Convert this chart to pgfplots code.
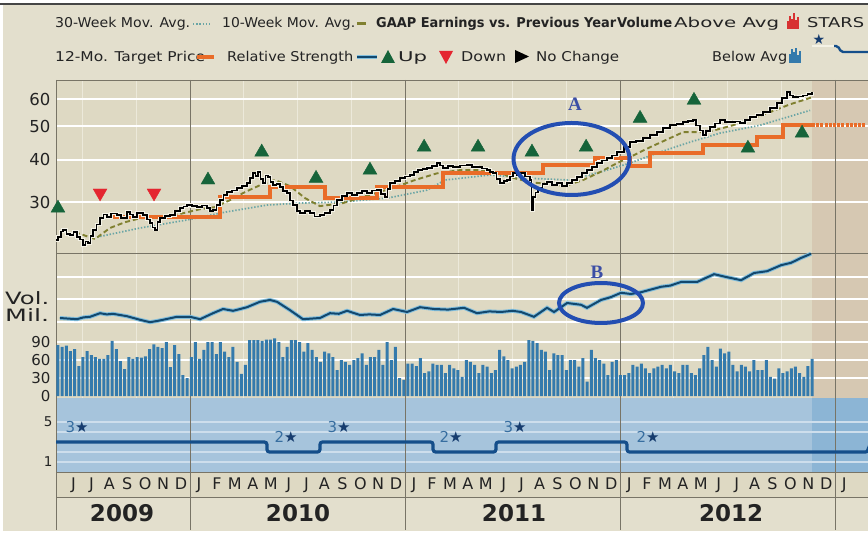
\documentclass[border=0pt]{standalone}
\usepackage{pgfplots}
\pgfplotsset{compat=1.18}
\usepackage{pgfplotstable}
\usepackage{graphicx}
\usepackage{fontspec}
\setmainfont{DejaVu Sans}
\newfontfamily\annfont{Liberation Serif}

\definecolor{framec}{RGB}{70,70,70}
\definecolor{bgout}{RGB}{227,223,205}
\definecolor{bgpanel}{RGB}{222,217,195}
\definecolor{bgfut}{RGB}{214,200,178}
\definecolor{starbg}{RGB}{166,196,220}
\definecolor{starfut}{RGB}{140,181,213}
\definecolor{stargrid}{RGB}{205,222,236}
\definecolor{yearline}{RGB}{120,116,102}
\definecolor{qline}{RGB}{236,233,218}
\definecolor{txt}{RGB}{35,35,35}
\definecolor{upgreen}{RGB}{22,100,58}
\definecolor{downred}{RGB}{228,38,48}
\definecolor{tgt}{RGB}{233,108,40}
\definecolor{maten}{RGB}{128,128,48}
\definecolor{mathirty}{RGB}{105,165,165}
\definecolor{rsdark}{RGB}{18,72,110}
\definecolor{rshalo}{RGB}{130,190,220}
\definecolor{volblue}{RGB}{52,122,172}
\definecolor{volred}{RGB}{215,50,50}
\definecolor{starline}{RGB}{20,78,138}
\definecolor{starnum}{RGB}{55,110,160}
\definecolor{starnavy}{RGB}{22,60,110}
\definecolor{ann}{RGB}{35,78,178}
\definecolor{annlab}{RGB}{60,78,165}
\definecolor{pricehalo}{RGB}{244,242,230}

\newcommand{\fw}[2]{\resizebox{#1pt}{\height}{#2}}

% price (t = months since Jan 2009, p = price)
\pgfplotstableread{
t p
4.52 23.2
4.63 23.7
4.78 24.6
4.91 24.9
5.10 24.2
5.30 24.0
5.50 24.5
5.69 23.7
5.85 23.3
6.03 22.5
6.17 23.0
6.31 22.8
6.45 23.9
6.58 24.9
6.78 25.8
6.98 26.9
7.17 27.6
7.37 27.1
7.60 27.8
7.92 27.5
8.15 27.0
8.48 28.1
8.65 27.6
8.82 27.1
9.05 27.9
9.38 27.5
9.60 26.7
9.77 26.1
9.90 25.3
10.04 24.9
10.18 26.2
10.32 26.9
10.60 27.3
10.88 27.5
11.15 28.2
11.44 28.8
11.63 29.1
11.83 29.4
12.10 29.2
12.39 29.0
12.65 29.3
12.95 28.8
13.10 28.3
13.28 28.4
13.47 29.4
13.67 30.4
13.86 31.4
14.06 32.1
14.35 32.4
14.62 33.0
14.90 33.4
15.18 34.1
15.35 35.3
15.51 36.4
15.65 35.8
15.79 36.7
15.93 35.1
16.07 34.1
16.21 35.9
16.35 35.5
16.49 34.3
16.63 33.6
16.82 33.9
17.02 33.2
17.20 32.3
17.41 31.9
17.58 30.3
17.75 29.4
17.95 28.3
18.14 27.9
18.40 28.2
18.69 27.9
18.95 27.2
19.25 27.5
19.50 27.9
19.81 28.4
20.00 29.3
20.20 30.4
20.48 31.3
20.76 31.9
21.05 31.4
21.32 31.9
21.60 32.3
21.88 31.9
22.15 32.4
22.43 32.5
22.65 31.7
22.88 31.0
23.02 32.7
23.16 34.1
23.45 34.6
23.72 35.2
24.00 35.6
24.27 36.0
24.50 36.8
24.72 37.2
24.97 37.4
25.22 37.7
25.50 38.2
25.78 39.0
25.95 38.4
26.12 37.7
26.40 38.3
26.67 37.9
27.05 38.4
27.46 38.5
27.75 38.0
28.01 37.9
28.30 37.6
28.57 37.2
28.75 36.8
28.91 36.4
29.10 35.1
29.30 34.1
29.50 34.5
29.69 34.8
29.85 35.6
30.02 36.4
30.22 36.0
30.41 36.4
30.70 35.6
30.97 34.8
31.05 28.4
31.14 31.0
31.28 32.0
31.42 33.0
31.67 33.8
31.92 34.3
32.20 33.7
32.48 34.1
32.76 33.5
33.04 34.1
33.30 34.8
33.59 35.5
33.87 36.4
34.15 37.2
34.43 38.0
34.71 39.0
34.99 39.7
35.27 40.3
35.55 41.0
35.83 42.0
36.20 43.5
36.55 44.9
36.90 45.3
37.28 46.1
37.65 47.0
38.06 48.0
38.40 49.3
38.78 50.3
39.15 50.7
39.51 51.3
39.80 51.8
40.07 52.0
40.25 50.2
40.46 48.6
40.63 47.0
40.80 48.3
41.02 49.6
41.30 50.9
41.57 52.0
41.85 51.5
42.13 51.3
42.40 51.6
42.69 51.0
42.97 52.0
43.25 53.1
43.60 54.0
43.97 54.9
44.35 56.5
44.75 58.3
45.05 60.5
45.31 62.8
45.48 61.5
45.65 60.7
45.95 61.0
46.21 61.5
46.45 62.0
46.71 62.8
}\pricetab

\pgfplotstableread{
t p
7.50 27.1
13.67 31.1
16.46 33.2
19.53 30.8
22.43 33.2
26.12 36.5
31.70 38.5
34.60 40.3
36.55 38.2
37.67 41.7
40.63 44.0
43.64 46.4
45.09 50.3
46.71 50.3
}\tgttab

\pgfplotstableread{
t p
5.58 24.5
6.70 23.4
7.53 25.2
8.37 26.2
9.21 26.9
10.32 27.1
11.44 27.7
12.56 28.6
13.39 29.0
14.23 30.4
15.07 32.1
15.90 33.6
16.74 34.8
17.58 33.4
18.42 30.8
19.25 29.2
20.54 29.8
21.76 31.2
23.33 33.0
24.55 34.8
25.78 36.4
27.06 37.2
28.18 37.2
29.30 36.4
30.13 35.2
30.97 34.3
31.92 33.9
32.92 33.4
33.93 34.8
34.88 36.7
35.83 39.0
36.55 40.6
37.67 43.4
39.51 48.0
40.85 48.0
42.30 50.3
44.19 54.5
45.48 57.9
46.71 60.7
}\maten

\pgfplotstableread{
t p
6.81 23.7
9.21 25.2
11.83 26.6
14.06 28.1
16.29 29.4
18.14 29.8
20.37 30.0
22.99 30.8
25.22 32.5
26.23 34.8
28.74 36.0
30.97 35.2
33.20 34.8
34.88 36.7
36.55 39.0
38.23 42.0
39.90 44.9
41.57 47.7
43.81 50.3
46.60 55.6
}\mathirty

\pgfplotstableread{
t p
4.63 28.8
13.00 34.8
16.00 42.0
19.03 35.2
22.04 37.2
25.06 43.4
28.07 43.4
31.08 42.0
34.10 43.4
37.11 52.7
40.12 59.5
43.13 43.1
46.15 47.7
}\uptab

\pgfplotstableread{
t p
6.98 31.9
9.99 31.9
}\downtab

\pgfplotstableread{
t v
4.74 130
5.20 129
5.69 128
6.05 131
6.42 132
6.98 138
7.35 136
7.70 137
8.48 133
9.21 127
9.77 123
10.15 125
10.49 127
11.27 132
12.00 132
12.56 128
13.28 138
13.84 145
14.40 142
14.80 145
15.18 148
15.90 157
16.46 160
16.85 157
17.58 143
18.30 128
19.25 130
19.81 138
20.30 137
20.76 142
21.48 135
22.00 136
22.60 135
23.33 145
24.11 140
24.83 148
25.61 145
26.40 144
27.29 147
28.01 138
28.70 141
29.35 140
30.00 142
30.47 140
31.19 132
31.92 147
32.31 140
33.04 155
33.82 152
34.15 147
34.93 160
35.50 165
36.05 172
36.60 170
37.17 173
38.28 182
38.80 184
39.40 190
40.29 190
41.24 203
41.96 198
42.75 193
43.47 205
44.20 208
44.98 218
45.54 222
46.09 230
46.65 237
}\rstab

\pgfplotstableread[row sep=\\]{
v\\85\\82\\84\\75\\78\\50\\65\\75\\68\\65\\62\\62\\68\\92\\78\\58\\45\\65\\62\\65\\64\\66\\78\\86\\82\\80\\90\\48\\85\\70\\35\\30\\
65\\90\\62\\77\\90\\90\\70\\90\\74\\65\\82\\57\\37\\52\\93\\93\\93\\92\\94\\94\\96\\90\\65\\82\\93\\93\\90\\74\\88\\77\\65\\57\\74\\71\\65\\43\\60\\57\\52\\60\\63\\71\\52\\65\\65\\77\\52\\90\\60\\82\\30\\27\\
54\\54\\50\\63\\38\\41\\54\\52\\52\\38\\52\\46\\43\\32\\60\\57\\52\\38\\52\\49\\38\\43\\77\\66\\60\\46\\49\\52\\57\\93\\92\\88\\77\\74\\43\\71\\68\\68\\43\\60\\60\\49\\63\\24\\77\\63\\60\\54\\35\\57\\60\\35\\
35\\38\\52\\49\\54\\46\\38\\46\\49\\52\\46\\52\\41\\38\\52\\52\\38\\35\\46\\68\\82\\60\\49\\79\\71\\74\\52\\41\\52\\49\\41\\60\\43\\43\\60\\32\\29\\46\\38\\41\\46\\49\\38\\32\\50\\62\\
}\voltab

\pgfplotsset{panel/.style={scale only axis, width=812pt, xmin=4.52, xmax=49.83,
  anchor=south west, axis line style={draw=none}, major tick length=0pt,
  minor tick length=0pt, xtick=\empty, ticklabel style={text=txt}}}

\begin{document}
\begin{tikzpicture}
\useasboundingbox (0pt,0pt) rectangle (868pt,533pt);
% ---------- backgrounds and grid (pixel coordinates) ----------
\begin{scope}[x=1pt,y=-1pt,shift={(0pt,533pt)}]
\fill[white] (0,0) rectangle (868,533);
\fill[bgout] (3,4) rectangle (868,531);
\fill[bgpanel] (56,80) rectangle (868,398);
\fill[bgfut] (812,80) rectangle (868,398);
\fill[starbg] (56,398) rectangle (868,472);
\fill[starfut] (812,398) rectangle (868,472);
\fill[bgpanel] (56,472) rectangle (868,497);
\foreach \xx in {82.5,136.3,243.8,297.6,351.3,458.8,512.6,566.4,673.9,727.6,781.4}
  \draw[qline, line width=1pt] (\xx,80) -- (\xx,398);
\foreach \yy in {99,126,160,202}
  \draw[white, line width=2.6pt] (56,\yy) -- (868,\yy);
\foreach \yy in {277,299,322,342,360,378}
  \draw[white, line width=1.8pt] (56,\yy) -- (868,\yy);
\foreach \yy in {422,432,452,462}
  \draw[stargrid, line width=1.4pt] (56,\yy) -- (868,\yy);
\foreach \xx in {190,405.1,620.1,835.2}
  \draw[yearline, line width=0.9pt] (\xx,80) -- (\xx,530);
\draw[yearline, line width=0.9pt] (56,80) -- (868,80);
\draw[yearline, line width=0.9pt] (56,253) -- (868,253);
\draw[yearline, line width=0.9pt] (56,472) -- (868,472);
\draw[yearline, line width=0.9pt] (56,497) -- (868,497);
\draw[yearline, line width=0.9pt] (56,80) -- (56,530);
\draw[framec, line width=1.6pt] (0,4) -- (868,4);
\end{scope}

% ---------- price panel ----------
\begin{axis}[panel, at={(56pt,280pt)}, height=173pt, ymode=log, ymin=21.3, ymax=68.2,
  clip=false,
  ytick={30,40,50,60}, yticklabels={30,40,50,60},
  yticklabel style={font=\fontsize{16.5}{18}\selectfont, xshift=-2pt}]
\addplot[mathirty, line width=1.7pt, dash pattern=on 1.4pt off 1.8pt] table[x=t,y=p]{\mathirty};
\addplot[maten, line width=1.9pt, dash pattern=on 5pt off 3pt] table[x=t,y=p]{\maten};
\addplot[const plot, tgt, line width=3.8pt] table[x=t,y=p]{\tgttab};
\addplot[tgt, line width=3.8pt, dash pattern=on 3pt off 1.2pt] coordinates {(46.71,50.3) (49.66,50.3)};
\addplot[const plot, pricehalo, line width=3.4pt] table[x=t,y=p]{\pricetab};
\addplot[const plot, black, line width=1.7pt] table[x=t,y=p]{\pricetab};
\addplot[only marks, mark=triangle*, mark size=8pt, mark options={fill=upgreen, draw=upgreen}] table[x=t,y=p]{\uptab};
\addplot[only marks, mark=triangle*, mark size=8pt, mark options={fill=downred, draw=downred, rotate=180}] table[x=t,y=p]{\downtab};
\end{axis}

% ---------- volume + relative strength panel ----------
\begin{axis}[panel, at={(56pt,135pt)}, height=145pt, ymin=-3.3, ymax=238.3,
  ytick={0,30,60,90}, yticklabels={0,30,60,90},
  yticklabel style={font=\fontsize{15}{16}\selectfont, xshift=-2pt}]
\addplot[ybar, bar width=3pt, bar shift=0pt, fill=volblue, draw=none]
  table[x expr={4.63+\coordindex*0.2325}, y=v]{\voltab};
\addplot[rshalo, line width=4pt] table[x=t,y=v]{\rstab};
\addplot[rsdark, line width=2pt] table[x=t,y=v]{\rstab};
\end{axis}

% ---------- STARS panel with month labels ----------
\begin{axis}[panel, at={(56pt,61pt)}, height=74pt, ymin=0, ymax=7.4,
  ytick={1,5}, yticklabels={1,5},
  yticklabel style={font=\fontsize{13.5}{15}\selectfont},
  xtick={5.5,6.5,...,48.5},
  xticklabels={J,J,A,S,O,N,D,J,F,M,A,M,J,J,A,S,O,N,D,J,F,M,A,M,J,J,A,S,O,N,D,J,F,M,A,M,J,J,A,S,O,N,D,J},
  xticklabel style={font=\fontsize{16}{18}\selectfont, anchor=base, yshift=-18pt}]
\addplot[const plot, starline, line width=3.2pt, rounded corners=2.5pt]
  coordinates {(4.52,3) (16.29,2) (19.25,3) (25.56,2) (29.07,3) (36.38,2) (49.83,2)};
\end{axis}

% ---------- labels, legend, annotations (pixel coordinates) ----------
\begin{scope}[x=1pt,y=-1pt,shift={(0pt,533pt)},
  leg/.style={anchor=base west, inner sep=0pt, text=txt, font=\fontsize{13.5}{15}\selectfont}]
% year labels
\foreach \xx/\yr in {122/2009,298/2010,514/2011,731/2012}
  \node[text=txt, font=\fontsize{23}{25}\selectfont\bfseries] at (\xx,513) {\yr};
% Vol. Mil.
\node[leg, font=\fontsize{17}{18}\selectfont] at (5,305) {\fw{44}{Vol.}};
\node[leg, font=\fontsize{17}{18}\selectfont] at (5,322) {\fw{44}{Mil.}};
% star labels
\foreach \xx/\yy/\n in {77/427/3,286/437/2,339/427/3,451/437/2,515/427/3,648/437/2}
  \node[font=\fontsize{15}{16}\selectfont, inner sep=0pt] at (\xx,\yy) {\textcolor{starnum}{\n}\textcolor{starnavy}{★}};
% annotations
\draw[ann, line width=4pt] (571.5,159) ellipse [x radius=58pt, y radius=36pt];
\draw[ann, line width=4pt] (601,303) ellipse [x radius=42pt, y radius=20pt];
\node[text=annlab, font={\annfont\bfseries\fontsize{19}{20}\selectfont}] at (575,104) {A};
\node[text=annlab, font={\annfont\bfseries\fontsize{19}{20}\selectfont}] at (597,272) {B};
% legend row 1
\node[leg] at (55,28) {\fw{135}{30-Week Mov. Avg.}};
\draw[mathirty, line width=1.5pt, dash pattern=on 1.4pt off 1.8pt] (193,24) -- (212,24);
\node[leg] at (222,28) {\fw{133}{10-Week Mov. Avg.}};
\draw[maten, line width=2.5pt] (357,23.5) -- (366,23.5);
\node[leg] at (376,28) {\fw{240}{\bfseries GAAP Earnings vs. Previous Year}};
\node[leg] at (617,28) {\fw{55}{\bfseries Volume}};
\node[leg] at (674,28) {\fw{105}{Above Avg}};
\foreach \xx/\hh in {788/8,790/13,792/10,794/16,796/9,798/12}
  \draw[volred, line width=1.3pt] (\xx,29) -- (\xx,29-\hh);
\node[leg] at (807,28) {\fw{57}{STARS}};
% legend row 2
\node[leg] at (55,62) {\fw{150}{12-Mo. Target Price}};
\draw[tgt, line width=4pt] (197,57) -- (214,57);
\node[leg] at (227,62) {\fw{126}{Relative Strength}};
\draw[rshalo, line width=4pt] (357,57) -- (377,57);
\draw[rsdark, line width=2pt] (357,57) -- (377,57);
\fill[upgreen] (381,63) -- (395,63) -- (388,50) -- cycle;
\node[leg] at (398,62) {\fw{29}{Up}};
\fill[downred] (439,51) -- (453,51) -- (446,64) -- cycle;
\node[leg] at (461,62) {\fw{45}{Down}};
\fill[black] (515,50) -- (515,63) -- (529,56.5) -- cycle;
\node[leg] at (536,62) {\fw{83}{No Change}};
\node[leg] at (712,62) {\fw{75}{Below Avg}};
\foreach \xx/\hh in {790/9,792/14,794/11,796/15,798/8,800/12}
  \draw[volblue, line width=1.3pt] (\xx,63) -- (\xx,63-\hh);
\node[text=starnavy, font=\fontsize{14}{15}\selectfont, inner sep=0pt] at (819,39) {★};
\draw[pricehalo, line width=2pt] (812,46) -- (834,46);
\draw[starline, line width=2.4pt, rounded corners=2pt] (834,46) -- (838,46) -- (841,52) -- (868,52);
\end{scope}
\end{tikzpicture}
\end{document}
